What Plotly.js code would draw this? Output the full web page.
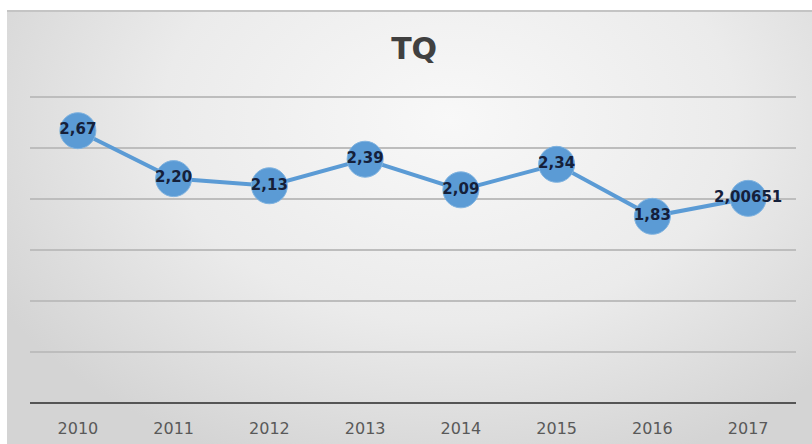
<!DOCTYPE html>
<html>
<head>
<meta charset="utf-8">
<script src="https://cdn.plot.ly/plotly-3.0.1.min.js"></script>
<style>
  html, body { margin: 0; padding: 0; background: #ffffff; }
  #wrap { position: relative; width: 812px; height: 444px; overflow: hidden; }
  #bg {
    position: absolute; left: 7px; top: 10px; right: 0; bottom: 0;
    background: radial-gradient(ellipse 65% 85% at 55% 25%, #f8f8f8 0%, #ebebeb 55%, #d4d4d4 100%);
    border-top: 2px solid #c4c4c4;
  }
  #chart { position: absolute; left: 0; top: 0; width: 812px; height: 444px; }
</style>
</head>
<body>
<div id="wrap">
  <div id="bg"></div>
  <div id="chart"></div>
</div>
<script>
const years = ["2010", "2011", "2012", "2013", "2014", "2015", "2016", "2017"];
const tq = [2.67, 2.20, 2.13, 2.39, 2.09, 2.34, 1.83, 2.00651];
const labels = ["2,67", "2,20", "2,13", "2,39", "2,09", "2,34", "1,83", "2,00651"];
const gridVals = [0, 0.5, 1, 1.5, 2, 2.5, 3];

const trace = {
  x: years,
  y: tq,
  type: "scatter",
  mode: "lines+markers+text",
  text: labels,
  textposition: "middle center",
  textfont: { family: "DejaVu Sans, sans-serif", size: 15, color: "#15203a", weight: "bold" },
  line: { color: "#5b9bd5", width: 4 },
  marker: { size: 36, color: "#5b9bd5", line: { color: "#80b3e0", width: 1 } },
  hoverinfo: "skip",
  cliponaxis: false
};

const layout = {
  width: 812,
  height: 444,
  margin: { l: 30, r: 16, t: 96, b: 40 },
  paper_bgcolor: "rgba(0,0,0,0)",
  plot_bgcolor: "rgba(0,0,0,0)",
  showlegend: false,
  title: {
    text: "<b>TQ</b>",
    font: { family: "DejaVu Sans, sans-serif", size: 30, color: "#404040" },
    x: 0.51, xanchor: "center",
    y: 0.89, yanchor: "middle", yref: "container"
  },
  xaxis: {
    type: "category",
    range: [-0.5, 7.5],
    showgrid: false,
    zeroline: false,
    showline: false,
    ticks: "",
    ticklabelstandoff: 13,
    tickfont: { family: "DejaVu Sans, sans-serif", size: 16, color: "#595959" },
    fixedrange: true
  },
  yaxis: {
    range: [-0.01, 3.01],
    tickvals: gridVals,
    showticklabels: false,
    showgrid: true,
    gridcolor: "#bdbdbd",
    gridwidth: 1.5,
    zeroline: true,
    zerolinecolor: "#555555",
    zerolinewidth: 2.5,
    showline: false,
    ticks: "",
    fixedrange: true
  }
};

Plotly.newPlot("chart", [trace], layout, { displayModeBar: false, staticPlot: true });
</script>
</body>
</html>
